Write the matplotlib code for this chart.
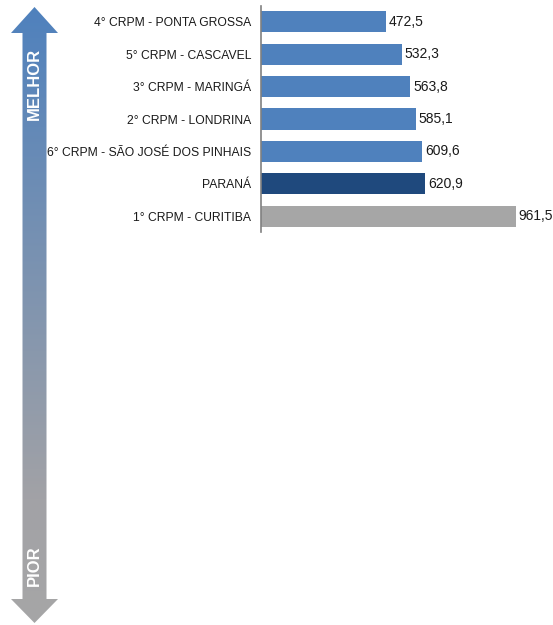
# horizontal bar chart with gradient arrow (MELHOR / PIOR)

import matplotlib
matplotlib.use('Agg')
import matplotlib.pyplot as plt
import numpy as np
from matplotlib.patches import Polygon
from matplotlib.colors import LinearSegmentedColormap

plt.rcParams['font.family'] = ['Liberation Sans', 'DejaVu Sans']

# data
categories = ['4° CRPM - PONTA GROSSA', '5° CRPM - CASCAVEL', '3° CRPM - MARINGÁ',
              '2° CRPM - LONDRINA', '6° CRPM - SÃO JOSÉ DOS PINHAIS', 'PARANÁ',
              '1° CRPM - CURITIBA']
values = [472.5, 532.3, 563.8, 585.1, 609.6, 620.9, 961.5]
barColors = ['#4F81BD'] * 5 + ['#1F497D', '#A6A6A6']

W, H = 553, 625
fig = plt.figure(figsize=(W / 100, H / 100), dpi=100)

# main axes placed in pixel coordinates
axLeft, axRight, axTop, axBottom = 261, 545, 5.8, 232.2
ax = fig.add_axes([axLeft / W, 1 - axBottom / H, (axRight - axLeft) / W, (axBottom - axTop) / H])

y = np.arange(len(categories))
ax.barh(y, values, height=0.65, color=barColors)
ax.set_ylim(len(categories) - 0.5, -0.5)
ax.set_xlim(0, 1072)

for yi, v in zip(y, values):
    ax.text(v + 10, yi, ('%.1f' % v).replace('.', ','), va='center', ha='left',
            fontsize=10, color='#1a1a1a')

ax.set_yticks(y)
ax.set_yticklabels(categories, fontsize=8.7, color='#1a1a1a')
ax.tick_params(axis='y', length=0, pad=7)
ax.set_xticks([])
for s in ['top', 'right', 'bottom']:
    ax.spines[s].set_visible(False)
ax.spines['left'].set_color('#808080')
ax.spines['left'].set_linewidth(1.2)

# gradient arrow on the left, in pixel coordinates
arrowAx = fig.add_axes([0, 0, 1, 1])
arrowAx.set_xlim(0, W)
arrowAx.set_ylim(H, 0)
arrowAx.axis('off')

shaftL, shaftR = 22.5, 46.5
headL, headR = 11, 58
tipX = (headL + headR) / 2
pts = [(tipX, 7), (headR, 33), (shaftR, 33), (shaftR, 599), (headR, 599),
       (tipX, 623), (headL, 599), (shaftL, 599), (shaftL, 33), (headL, 33)]
poly = Polygon(pts, closed=True, facecolor='none', edgecolor='none')
arrowAx.add_patch(poly)

cmap = LinearSegmentedColormap.from_list('arrow', [(0, '#4F81BD'), (0.8, '#A2A2A6'), (1, '#A6A6A6')])
grad = np.linspace(0, 1, 256).reshape(-1, 1)
im = arrowAx.imshow(grad, cmap=cmap, aspect='auto', extent=[headL, headR, 623, 7],
                    origin='upper')
im.set_clip_path(poly)

arrowAx.text(tipX, 84, 'MELHOR', rotation=90, ha='center', va='center',
             color='white', fontsize=12, fontweight='bold')
arrowAx.text(tipX, 566, 'PIOR', rotation=90, ha='center', va='center',
             color='white', fontsize=12, fontweight='bold')

fig.savefig('out.png', dpi=100)
